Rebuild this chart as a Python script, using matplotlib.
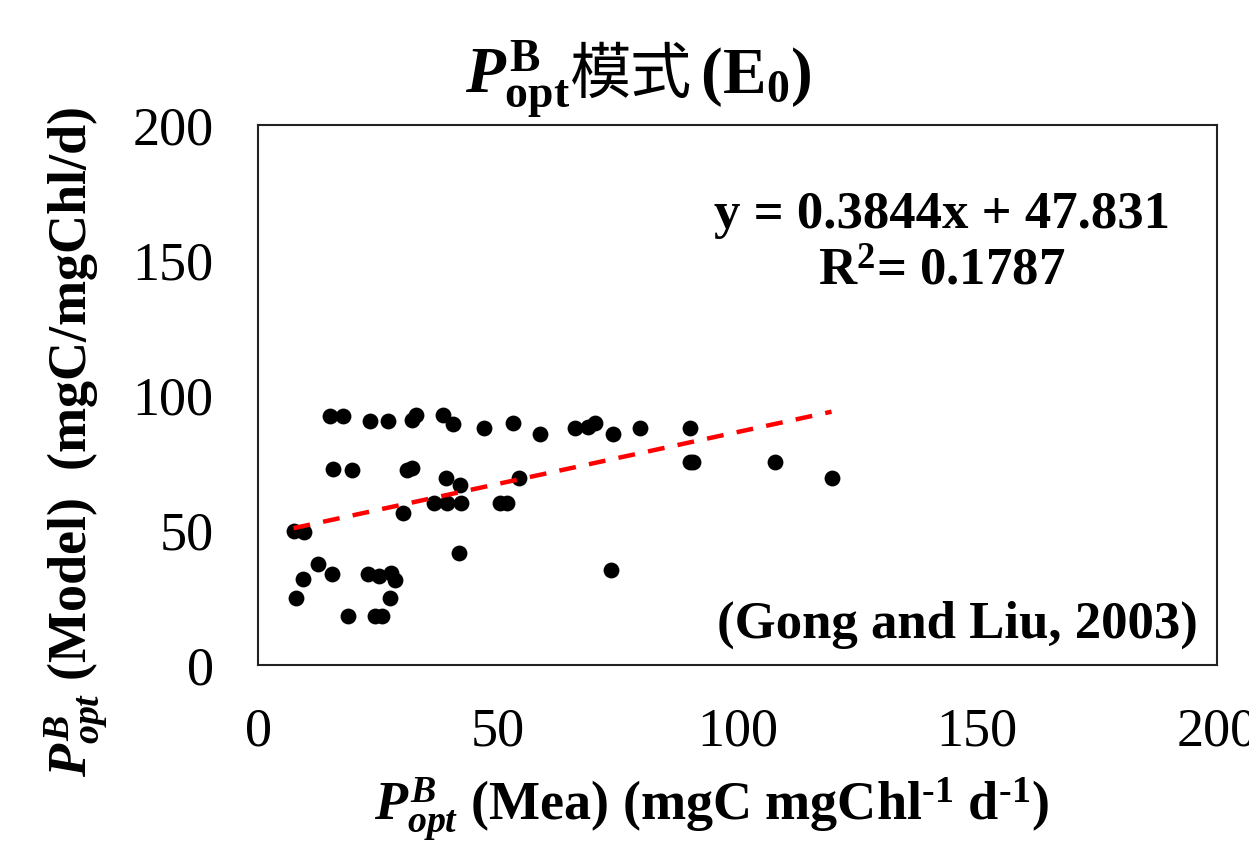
import matplotlib
matplotlib.use('Agg')
import matplotlib.pyplot as plt
from matplotlib.offsetbox import TextArea, HPacker, AnchoredOffsetbox
import numpy as np

# values
mea = [7.4, 9.5, 7.9, 9.3, 12.6, 15.5, 15.0, 17.7, 15.6, 19.5,
       18.8, 23.4, 23.0, 25.2, 24.4, 25.8, 27.0, 27.7, 28.6, 27.5,
       30.2, 31.0, 32.1, 32.1, 33.0, 36.6, 38.6, 39.2, 39.4, 40.7,
       42.1, 42.3, 42.0, 47.1, 50.5, 52.0, 53.2, 54.5, 58.8, 66.0,
       68.9, 70.3, 74.0, 73.6, 79.7, 90.1, 90.1, 90.7, 107.8, 119.6]
model = [49.7, 49.4, 24.7, 31.7, 37.3, 33.7, 92.2, 92.2, 72.7, 72.2,
         18.1, 90.5, 33.7, 33.0, 18.1, 18.1, 90.5, 34.0, 31.5, 24.7,
         56.4, 72.2, 72.9, 90.7, 92.6, 59.9, 92.6, 69.4, 59.9, 89.1,
         66.7, 59.9, 41.6, 87.7, 59.9, 59.9, 89.7, 69.4, 85.4, 87.7,
         88.3, 89.7, 85.4, 35.2, 87.7, 87.7, 75.3, 75.3, 75.3, 69.4]
slope = 0.3844
intercept = 47.831
r2 = 0.1787
ticks = [0, 50, 100, 150, 200]

plt.rcParams['font.family'] = ['Liberation Serif', 'Noto Sans CJK TC']
plt.rcParams['mathtext.fontset'] = 'custom'
plt.rcParams['mathtext.rm'] = 'Liberation Serif:bold'
plt.rcParams['mathtext.it'] = 'Liberation Serif:italic:bold'
plt.rcParams['mathtext.bf'] = 'Liberation Serif:bold'

fig = plt.figure(figsize=(12.49, 8.41), dpi=100)
ax = fig.add_axes([0.2066, 0.2093, 0.7678, 0.6421])

ax.scatter(mea, model, s=130, color='black', zorder=3, linewidths=0)

xs = np.array([min(mea), max(mea)])
ax.plot(xs, slope * xs + intercept, color='red', lw=3.2, ls=(0, (3.8, 3.0)), zorder=4)

ax.set_xlim(0, 200)
ax.set_ylim(0, 200)
ax.set_xticks(ticks)
ax.set_yticks(ticks)
ax.tick_params(axis='x', length=0, pad=30, labelsize=39)
ax.tick_params(axis='y', length=0, pad=32, labelsize=39)
for s in ax.spines.values():
    s.set_linewidth(1.5)
    s.set_color('#222222')

ax.set_xlabel(r'$P^{B}_{opt}$ (Mea) (mgC mgChl$^{\text{-1}}$ d$^{\text{-1}}$)',
              fontsize=39, fontweight='bold')
ax.xaxis.set_label_coords(0.473, -0.205)
ax.set_ylabel(r'$P^{B}_{opt}$ (Model)  (mgC/mgChl/d)',
              fontsize=39, fontweight='bold')
ax.yaxis.set_label_coords(-0.155, 0.413)

ax.text(0.713, 0.781, f'y = {slope}x + {intercept}\nR$^{{2}}$= {r2}',
        transform=ax.transAxes, ha='center', va='center', fontsize=38,
        fontweight='bold', linespacing=1.25, multialignment='center')
ax.text(0.98, 0.074, '(Gong and Liu, 2003)', transform=ax.transAxes,
        ha='right', va='center', fontsize=38, fontweight='bold')

# title: mixed latin / math / CJK pieces
t1 = TextArea(r'$P^{\mathrm{B}}_{\mathrm{opt}}$', textprops=dict(fontsize=47))
t2 = TextArea('模式', textprops=dict(fontsize=44, family='Noto Sans CJK TC'))
t3 = TextArea(r'$\,\mathrm{(E_0)}$', textprops=dict(fontsize=47))
box = HPacker(children=[t1, t2, t3], align='baseline', pad=0, sep=0)
anch = AnchoredOffsetbox(loc='center', child=box, pad=0, frameon=False,
                         bbox_to_anchor=(0.511, 0.905),
                         bbox_transform=fig.transFigure)
ax.add_artist(anch)

fig.savefig('out.png', dpi=100)
